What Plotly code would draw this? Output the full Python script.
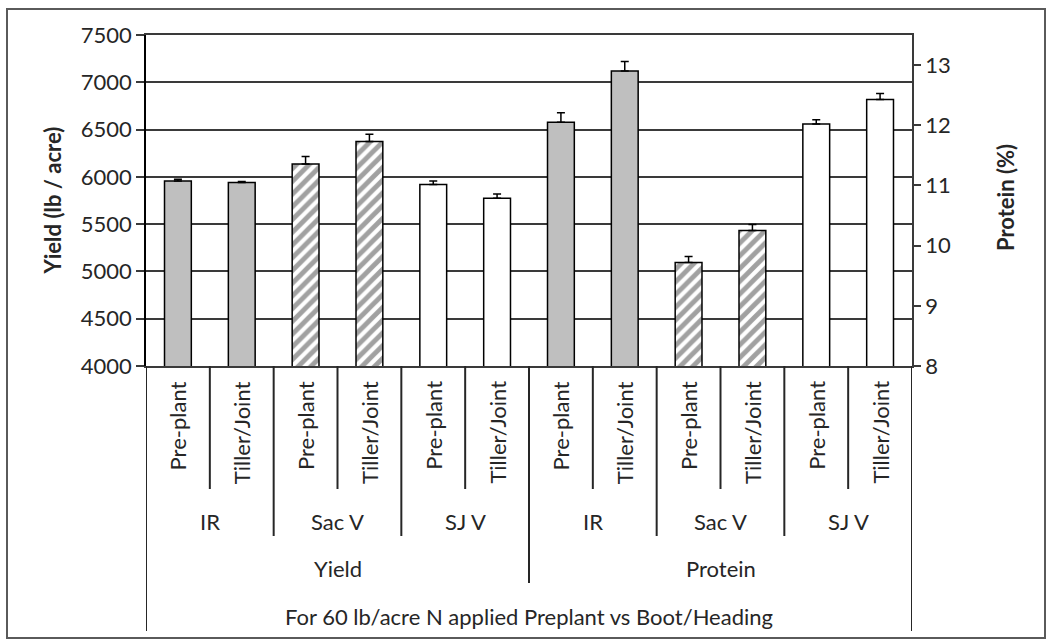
import plotly.graph_objects as go

# ---------------- data ----------------
measures = ["Yield", "Protein"]
regions = ["IR", "Sac V", "SJ V"]
timings = ["Pre-plant", "Tiller/Joint"]

yield_vals = [5955, 5940, 6135, 6375, 5920, 5775]
yield_err = [20, 12, 80, 75, 35, 45]
protein_vals = [12.05, 12.90, 9.72, 10.25, 12.02, 12.43]
protein_err = [0.16, 0.16, 0.10, 0.10, 0.07, 0.10]

footer = "For 60 lb/acre N applied Preplant vs Boot/Heading"
ytitle_left = "Yield (lb / acre)"
ytitle_right = "Protein (%)"

# ---------------- styling ----------------
FONT = "Lato"
TXT = "#262626"
LINE = "#3a3a3a"
GRAY = "#BFBFBF"

region_color = {"IR": GRAY, "Sac V": "white", "SJ V": "white"}
region_shape = {"IR": "", "Sac V": "/", "SJ V": ""}

# plot area in pixels
L, R, T, B = 146, 912, 35, 366


def pxp(p):
    return (p - L) / (R - L)


def pyp(p):
    return (B - p) / (B - T)


n_per = len(regions) * len(timings)
bar_regions = [r for r in regions for _ in timings]
bar_timings = [t for _ in regions for t in timings]
x_yield = list(range(n_per))
x_prot = [n_per + i for i in range(n_per)]

colors = [region_color[r] for r in bar_regions]
shapes_p = [region_shape[r] for r in bar_regions]

BW = 0.42


def bar_trace(x, y, err, yaxis):
    return go.Bar(
        x=x, y=y, yaxis=yaxis, width=BW,
        marker=dict(
            color=colors,
            line=dict(color="black", width=1.5),
            pattern=dict(shape=shapes_p, fillmode="overlay", fgcolor="black",
                         size=9, solidity=0.55),
        ),
        error_y=dict(type="data", array=err, arrayminus=[0] * len(err),
                     symmetric=False, color="black", thickness=1.5, width=4),
        showlegend=False, hoverinfo="skip",
    )


fig = go.Figure()
fig.add_trace(bar_trace(x_yield, yield_vals, yield_err, "y"))
fig.add_trace(bar_trace(x_prot, protein_vals, protein_err, "y2"))

n_tot = 2 * n_per

fig.update_layout(
    width=1049, height=640,
    margin=dict(l=L, r=1049 - R, t=T, b=640 - B, pad=0),
    paper_bgcolor="white", plot_bgcolor="white",
    barmode="overlay",
    font=dict(family=FONT, size=22, color=TXT),
    xaxis=dict(range=[-0.5, n_tot - 0.5], showticklabels=False, showgrid=False,
               zeroline=False, showline=True, mirror=True, linecolor=LINE,
               linewidth=1.5, ticks=""),
    yaxis=dict(range=[4000, 7500], dtick=500, showgrid=True, gridcolor=LINE,
               gridwidth=1.5, zeroline=False, showline=True, linecolor="black",
               linewidth=1.5, ticks="outside", ticklen=8, tickwidth=1.5,
               tickcolor=LINE, tickfont=dict(size=22, family=FONT, color=TXT)),
    yaxis2=dict(range=[8, 13.5], tickvals=[8, 9, 10, 11, 12, 13], overlaying="y",
                side="right", showgrid=False, zeroline=False, showline=True,
                linecolor=LINE, linewidth=1.5, ticks="outside", ticklen=7,
                tickwidth=1.5, tickcolor=LINE,
                tickfont=dict(size=22, family=FONT, color=TXT)),
)

shapes = []
# outer border
shapes.append(dict(type="rect", xref="paper", yref="paper",
                   x0=pxp(7), x1=pxp(1045), y0=pyp(638), y1=pyp(9),
                   line=dict(color="#5a5a5a", width=2), layer="below"))


def vline(xb, ybottom):
    shapes.append(dict(type="line", xref="x", yref="paper", x0=xb, x1=xb,
                       y0=0, y1=pyp(ybottom), line=dict(color="#262626", width=2)))


for b in range(n_tot + 1):
    xb = b - 0.5
    if b == 0 or b == n_tot:
        vline(xb, 631)
    elif b % n_per == 0:
        vline(xb, 583)
    elif b % 2 == 0:
        vline(xb, 536)
    else:
        vline(xb, 489)

fig.update_layout(shapes=shapes)

ann = []
# level 1: timings (rotated)
for i in range(n_tot):
    ann.append(dict(x=i, y=pyp(379), xref="x", yref="paper", text=bar_timings[i % n_per],
                    textangle=-90, showarrow=False, xanchor="center", yanchor="top",
                    font=dict(size=22, family=FONT, color=TXT)))
# level 2: regions
for m in range(len(measures)):
    for k, r in enumerate(regions):
        xc = m * n_per + 2 * k + 0.5
        ann.append(dict(x=xc, y=pyp(521), xref="x", yref="paper", text=r,
                        showarrow=False, xanchor="center", yanchor="middle",
                        font=dict(size=22, family=FONT, color=TXT)))
# level 3: measures
for m, name in enumerate(measures):
    xc = m * n_per + (n_per - 1) / 2
    ann.append(dict(x=xc, y=pyp(568), xref="x", yref="paper", text=name,
                    showarrow=False, xanchor="center", yanchor="middle",
                    font=dict(size=22, family=FONT, color=TXT)))
# level 4: footer
ann.append(dict(x=(n_tot - 1) / 2, y=pyp(616), xref="x", yref="paper", text=footer,
                showarrow=False, xanchor="center", yanchor="middle",
                font=dict(size=22, family=FONT, color=TXT)))
# axis titles
ann.append(dict(x=pxp(52), y=0.5, xref="paper", yref="paper", text="<b>" + ytitle_left + "</b>",
                textangle=-90, showarrow=False, xanchor="center", yanchor="middle",
                font=dict(size=22, family=FONT, color=TXT)))
ann.append(dict(x=pxp(1005), y=pyp(198), xref="paper", yref="paper", text="<b>" + ytitle_right + "</b>",
                textangle=-90, showarrow=False, xanchor="center", yanchor="middle",
                font=dict(size=22, family=FONT, color=TXT)))
fig.update_layout(annotations=ann)

fig.write_html("out.html", config={"displayModeBar": False},
               post_script="document.body.style.margin='0px';")
